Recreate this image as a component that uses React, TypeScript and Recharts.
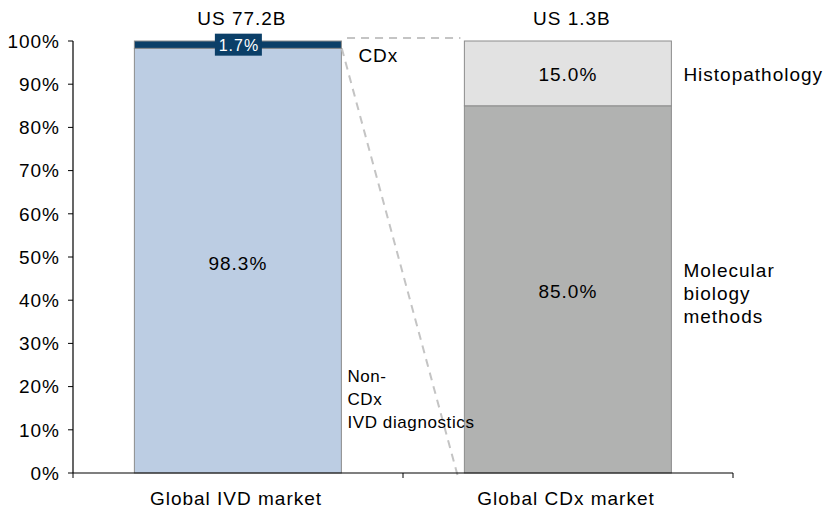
import React from 'react';
import { BarChart, Bar, XAxis, YAxis, LabelList } from 'recharts';

const categories = ['Global IVD market', 'Global CDx market'];
const marketSizes = ['US 77.2B', 'US 1.3B'];
const baseShares = [98.3, 85.0];
const topShares = [1.7, 15.0];
const baseNames = [['Non-', 'CDx', 'IVD diagnostics'], ['Molecular', 'biology', 'methods']];
const topNames = [['CDx'], ['Histopathology']];
const yTicks = [0, 10, 20, 30, 40, 50, 60, 70, 80, 90, 100];

const baseColors = ['#bccde3', '#b1b2b1'];
const topColors = ['#0b3f68', '#e2e2e2'];

const FONT = '"Liberation Sans", Arial, Helvetica, sans-serif';
const GAP = 0.186; // gap on each side of a bar, as a fraction of the category band
const EDGE = '#8c8c8c';
const DASH = '#c4c4c4';

const data = categories.map((name, i) => ({
  name,
  base: baseShares[i],
  top: topShares[i],
}));

const pct = (v: number) => `${v.toFixed(1)}%`;

// Dashed connectors that fan the CDx slice of the first bar out to the second bar.
// Worked out from the second bar's own rectangle, so they follow the scales.
function Connectors({ x, y, width, height, share }: any) {
  const perPct = height / share;
  const band = width / (1 - 2 * GAP);
  const top = y - (100 - share) * perPct;
  const bottom = y + height;
  const leftEdge = x - 2 * GAP * band;
  const split = top + (100 - baseShares[0]) * perPct;
  return (
    <g stroke={DASH} strokeWidth={2} strokeDasharray="8 6" fill="none">
      <line x1={leftEdge + 0.016 * band} y1={top - 0.7 * perPct} x2={x - 0.012 * band} y2={top - 0.7 * perPct} />
      <line x1={leftEdge} y1={split} x2={x - 0.019 * band} y2={bottom + perPct} />
    </g>
  );
}

function BaseShape(props: any) {
  const { x, y, width, height, index } = props;
  return (
    <g>
      <rect x={x} y={y} width={width} height={height} fill={baseColors[index]} stroke={EDGE} strokeWidth={1} />
      {index === 1 && <Connectors x={x} y={y} width={width} height={height} share={baseShares[1]} />}
    </g>
  );
}

function BaseLabel(props: any) {
  const vb = props.viewBox || props;
  const { x, y, width, height } = vb;
  const index = props.index != null ? props.index : baseShares.indexOf(props.value);
  const cx = x + width / 2;
  const cy = y + height / 2;
  const lines = baseNames[index];
  const nameX = x + width + (index === 0 ? 6 : 12);
  const firstBaseline = index === 0 ? y + height - 91 : cy - 12;
  return (
    <g>
      <text x={cx} y={cy + 9} textAnchor="middle" fontSize={19} fill="#000">
        {pct(baseShares[index])}
      </text>
      <text fontSize={index === 0 ? 17 : 19} fill="#000" style={{ letterSpacing: index === 0 ? '0.6px' : '1px' }}>
        {lines.map((line, k) => (
          <tspan key={k} x={nameX} y={firstBaseline + k * 23}>
            {line}
          </tspan>
        ))}
      </text>
    </g>
  );
}

function TopShape(props: any) {
  const { x, y, width, height, index } = props;
  const cx = x + width / 2;
  const cy = y + height / 2;
  const small = topShares[index] < 5;
  return (
    <g>
      <rect x={x} y={y} width={width} height={height} fill={topColors[index]} stroke={EDGE} strokeWidth={1} />
      {small ? (
        <g>
          <rect x={cx - 23} y={cy - 11} width={47} height={22} fill={topColors[index]} />
          <text x={cx + 1} y={cy + 6} textAnchor="middle" fontSize={16} fill="#fff">
            {pct(topShares[index])}
          </text>
        </g>
      ) : (
        <text x={cx} y={cy + 8} textAnchor="middle" fontSize={19} fill="#000">
          {pct(topShares[index])}
        </text>
      )}
      <text x={x + width + (small ? 17 : 12)} y={small ? y + 21 : cy + 8} fontSize={19} fill="#000">
        {topNames[index][0]}
      </text>
      <text x={cx + 4} y={y - 16} textAnchor="middle" fontSize={19} fill="#000">
        {marketSizes[index]}
      </text>
    </g>
  );
}

function CategoryTick(props: any) {
  const { x, y, payload } = props;
  const half = payload && payload.offset ? payload.offset : 165;
  const last = payload.index === categories.length - 1;
  return (
    <g>
      <line x1={x - half} x2={x - half} y1={y} y2={y + 5} stroke="#000" />
      {last && <line x1={x + half} x2={x + half} y1={y} y2={y + 5} stroke="#000" />}
      <text x={x - 2} y={y + 32} textAnchor="middle" fontSize={19} fill="#000">
        {payload.value}
      </text>
    </g>
  );
}

export default function App() {
  return (
    <div
      style={{
        position: 'absolute',
        left: 0,
        top: 0,
        width: 825,
        height: 512,
        background: '#fff',
        fontFamily: FONT,
        letterSpacing: '1px',
      }}
    >
      <BarChart
        width={825}
        height={512}
        data={data}
        margin={{ top: 41, right: 92, bottom: 9, left: 0 }}
        barCategoryGap={`${GAP * 100}%`}
      >
        <XAxis
          dataKey="name"
          height={30}
          tickSize={0}
          tickMargin={0}
          tick={<CategoryTick />}
          axisLine={{ stroke: '#000', strokeWidth: 1.2 }}
          interval={0}
        />
        <YAxis
          type="number"
          domain={[0, 100]}
          ticks={yTicks}
          width={73}
          tickSize={5}
          tickMargin={8}
          tickFormatter={(v: number) => `${v}%`}
          tick={{ fill: '#000', fontSize: 19 }}
          tickLine={{ stroke: '#000' }}
          axisLine={{ stroke: '#000', strokeWidth: 1.2 }}
        />
        <Bar dataKey="base" stackId="s" shape={<BaseShape />} isAnimationActive={false}>
          <LabelList dataKey="base" content={<BaseLabel />} />
        </Bar>
        <Bar dataKey="top" stackId="s" shape={<TopShape />} isAnimationActive={false} />
      </BarChart>
    </div>
  );
}
